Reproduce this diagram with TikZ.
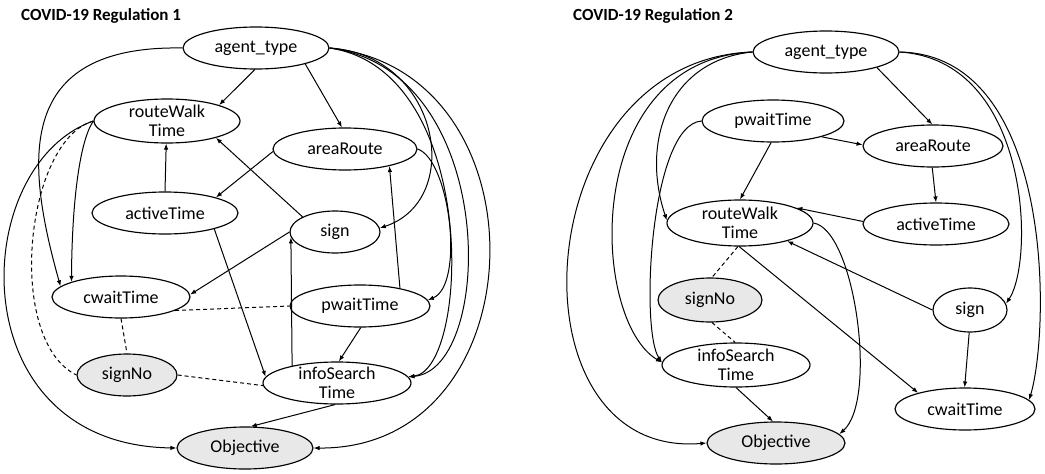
\documentclass[tikz,border=0pt]{standalone}
\usepackage{fontspec}
\setmainfont{Carlito}
\usetikzlibrary{shapes.geometric,arrows.meta}
\begin{document}
\begin{tikzpicture}[x=1pt,y=-1pt,
  nd/.style={ellipse, draw=black, line width=1.15pt, fill=white, inner sep=0pt},
  gnd/.style={nd, fill=black!9},
  txt/.style={font=\fontsize{18}{18.5}\selectfont, align=center, inner sep=0pt},
  ttl/.style={font=\bfseries\fontsize{17}{17}\selectfont, anchor=west, inner sep=0pt},
  arr/.style={-{Latex[length=6pt,width=4.5pt]}, line width=1pt},
  dsh/.style={dash pattern=on 4pt off 3pt, line width=1pt}]
\fill[white] (0,0) rectangle (1045,474);
\useasboundingbox (0,0) rectangle (1045,474);

% titles
\node[ttl] (t1) at (21,16) {COVID-19 Regulation 1};
\node[ttl] (t2) at (573,16) {COVID-19 Regulation 2};

% left diagram
\node[nd, minimum width=146pt, minimum height=42pt, label={[txt]center:agent\_type}] (a1) at (256,48) {};
\node[nd, minimum width=146pt, minimum height=44pt, label={[txt]center:routeWalk\\Time}] (rw1) at (167,121) {};
\node[nd, minimum width=144pt, minimum height=42pt, label={[txt]center:areaRoute}] (ar1) at (345,149) {};
\node[nd, minimum width=146pt, minimum height=42pt, label={[txt]center:activeTime}] (at1) at (165,213) {};
\node[nd, minimum width=90pt, minimum height=42pt, label={[txt]center:sign}] (s1) at (335,232) {};
\node[nd, minimum width=138pt, minimum height=42pt, label={[txt]center:cwaitTime}] (cw1) at (121,297) {};
\node[nd, minimum width=140pt, minimum height=42pt, label={[txt]center:pwaitTime}] (pw1) at (360,306) {};
\node[gnd, minimum width=100pt, minimum height=42pt, label={[txt]center:signNo}] (sn1) at (127,375) {};
\node[nd, minimum width=148pt, minimum height=42pt, label={[txt]center:infoSearch\\Time}] (is1) at (337,383) {};
\node[gnd, minimum width=136pt, minimum height=42pt, label={[txt]center:Objective}] (o1) at (245,448) {};

\draw[arr] (a1.267) -- (rw1.17);
\draw[arr] (a1.342) -- (ar1.98);
\draw[arr] (at1.90) -- (rw1.268);
\draw[arr] (ar1.182) -- (at1.17);
\draw[arr] (s1.155) -- (rw1.341);
\draw[arr] (at1.342) -- (is1.175);
\draw[arr] (s1.180) -- (cw1.2);
\draw[arr] (is1.159) -- (s1.187);
\draw[arr] (pw1.24) -- (ar1.339);
\draw[arr] (pw1.272) -- (is1.85);
\draw[arr] (is1.265) -- (o1.75);
\draw[dsh] (cw1.346) -- (pw1.180);
\draw[dsh] (cw1.south) -- (sn1.north);
\draw[dsh] (sn1.east) -- (is1.182);
\draw[dsh] (rw1.west) .. controls (25,140) and (5,340) .. (sn1.west);
\draw[arr] (rw1.west) .. controls (80,140) and (72,200) .. (cw1.163);
\draw[arr] (rw1.west) .. controls (-32,165) and (-42,445) .. (o1.west);
\draw[arr] (a1.west) .. controls (15,45) and (25,160) .. (cw1.170);
\draw[arr] (a1.east) .. controls (440,55) and (465,200) .. (s1.5);
\draw[arr] (ar1.east) .. controls (450,160) and (465,285) .. (pw1.5);
\draw[arr] (a1.east) .. controls (480,70) and (470,370) .. (is1.5);
\draw[arr] (a1.east) .. controls (500,70) and (495,370) .. (is1.5);
\draw[arr] (a1.east) .. controls (550,70) and (540,450) .. (o1.east);

% right diagram
\node[nd, minimum width=146pt, minimum height=42pt, label={[txt]center:agent\_type}] (a2) at (826,52) {};
\node[nd, minimum width=142pt, minimum height=42pt, label={[txt]center:pwaitTime}] (pw2) at (773,121) {};
\node[nd, minimum width=140pt, minimum height=42pt, label={[txt]center:areaRoute}] (ar2) at (933,146) {};
\node[nd, minimum width=146pt, minimum height=46pt, label={[txt]center:routeWalk\\Time}] (rw2) at (740,223) {};
\node[nd, minimum width=146pt, minimum height=42pt, label={[txt]center:activeTime}] (at2) at (936,224) {};
\node[gnd, minimum width=104pt, minimum height=44pt, label={[txt]center:signNo}] (sn2) at (710,300) {};
\node[nd, minimum width=148pt, minimum height=44pt, label={[txt]center:infoSearch\\Time}] (is2) at (736,365) {};
\node[gnd, minimum width=138pt, minimum height=42pt, label={[txt]center:Objective}] (o2) at (776,443) {};
\node[nd, minimum width=74pt, minimum height=44pt, label={[txt]center:sign}] (s2) at (970,310) {};
\node[nd, minimum width=140pt, minimum height=42pt, label={[txt]center:cwaitTime}] (cw2) at (965,409) {};

\draw[arr] (a2.343) -- (ar2.92);
\draw[arr] (ar2.268) -- (at2.90);
\draw[arr] (pw2.342) -- (ar2.179);
\draw[arr] (pw2.265) -- (rw2.90);
\draw[arr] (at2.178) -- (rw2.15);
\draw[arr] (s2.180) -- (rw2.339);
\draw[arr] (rw2.268) -- (cw2.161);
\draw[arr] (s2.268) -- (cw2.91);
\draw[arr] (is2.270) -- (o2.98);
\draw[dsh] (rw2.265) -- (sn2.85);
\draw[dsh] (sn2.275) -- (is2.92);
\draw[arr] (rw2.east) .. controls (855,230) and (878,400) .. (o2.8);
\draw[arr] (a2.east) .. controls (1030,60) and (1035,260) .. (s2.10);
\draw[arr] (a2.east) .. controls (1055,55) and (1050,330) .. (cw2.8);
\draw[arr] (a2.west) .. controls (670,60) and (640,140) .. (rw2.178);
\draw[arr] (a2.west) .. controls (580,60) and (590,320) .. (is2.178);
\draw[arr] (pw2.west) .. controls (650,125) and (640,330) .. (is2.178);
\draw[arr] (a2.west) .. controls (525,60) and (505,460) .. (o2.west);
\end{tikzpicture}
\end{document}
